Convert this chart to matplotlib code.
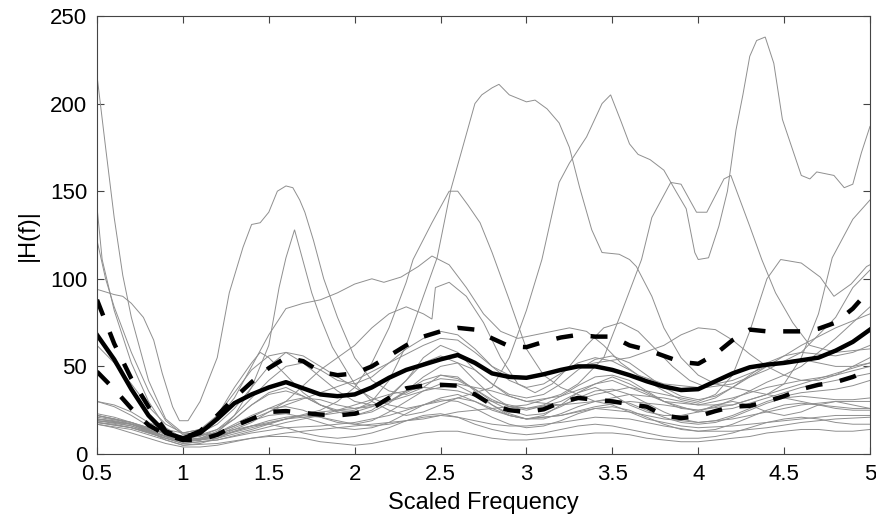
import matplotlib
matplotlib.use("Agg")
import matplotlib.pyplot as plt

plt.rcParams['font.family'] = ['Liberation Sans', 'DejaVu Sans']

# ---------------- summary curves (mean and +/- 1 std) ----------------
freq = [0.5, 0.6, 0.7, 0.8, 0.9, 1.0, 1.1, 1.2, 1.3, 1.4, 1.5, 1.6, 1.7, 1.8, 1.9,
        2.0, 2.1, 2.2, 2.3, 2.4, 2.5, 2.6, 2.7, 2.8, 2.9, 3.0, 3.1, 3.2, 3.3, 3.4,
        3.5, 3.6, 3.7, 3.8, 3.9, 4.0, 4.1, 4.2, 4.3, 4.4, 4.5, 4.6, 4.7, 4.8, 4.9, 5.0]
mean_h = [68, 54, 37, 22, 12, 9, 12, 20, 29, 34, 38, 41, 37.5, 34, 33,
          34, 38, 43.5, 48, 51, 54, 56.5, 52, 46, 44, 43.5, 45.5, 48, 50, 50,
          48, 45, 41.5, 38.5, 36.5, 37, 41.5, 46, 49.5, 51, 52, 53.5, 55, 59, 64, 71]
upper_h = [88, 63, 43, 27, 13, 9, 13, 22, 32, 41, 49, 55, 53, 47, 45,
           46, 50, 56, 62, 67, 70, 72, 71, 66, 61.5, 61, 64, 66.5, 68, 67,
           67, 62, 59.5, 56, 52.5, 51.5, 57, 65, 71, 70, 70, 70, 71.5, 75, 83, 94]
lower_h = [47, 37, 26, 16.5, 11, 8, 8, 11, 16, 20, 24, 24.5, 23.5, 22.5, 22,
           23, 26, 32, 37.5, 39, 39.5, 39, 34, 28, 25, 24, 25.5, 29.5, 32, 31,
           30, 28.5, 27, 22, 20.5, 21.5, 24.5, 27, 27.5, 30, 33, 37, 39.5, 41, 44, 48]

# ---------------- individual traces (gray) ----------------
f_a = [0.5, 0.55, 0.6, 0.65, 0.7, 0.8, 0.9, 1.0, 1.1, 1.2, 1.3, 1.4, 1.5, 1.6, 1.7, 1.8, 1.9, 2.0,
       2.1, 2.2, 2.3, 2.4, 2.5, 2.6, 2.7, 2.8, 2.9, 3.0, 3.2, 3.4, 3.5, 3.6, 3.8, 4.0, 4.2, 4.4, 4.6, 4.8, 5.0]
h_a = [216, 175, 135, 102, 78, 42, 20, 12, 11, 14, 20, 28, 35, 38, 33, 28, 25, 24,
       27, 33, 42, 55, 62, 58, 48, 40, 33, 30, 33, 40, 42, 38, 30, 28, 32, 38, 42, 45, 50]

f_b = [0.5, 0.53, 0.6, 0.7, 0.8, 0.9, 1.0, 1.1, 1.2, 1.3, 1.4, 1.5, 1.6, 1.7, 1.8, 1.9, 2.0, 2.1,
       2.2, 2.3, 2.4, 2.5, 2.6, 2.7, 2.8, 2.9, 3.0, 3.1, 3.2, 3.3, 3.4, 3.5, 3.6, 3.7, 3.8, 3.9,
       4.0, 4.1, 4.2, 4.3, 4.4, 4.5, 4.6, 4.7, 4.8, 4.9, 5.0]
h_b = [141, 111, 82, 52, 30, 15, 9, 10, 14, 22, 32, 42, 50, 52, 48, 42, 40, 44,
       52, 60, 66, 70, 68, 60, 50, 42, 38, 40, 46, 52, 55, 53, 48, 42, 36, 31,
       29, 32, 38, 45, 52, 56, 58, 57, 56, 58, 62]

f_c = [0.5, 0.55, 0.6, 0.7, 0.8, 0.9, 1.0, 1.1, 1.2, 1.3, 1.4, 1.5, 1.6, 1.7, 1.8, 1.9, 2.0, 2.1,
       2.2, 2.3, 2.4, 2.5, 2.6, 2.7, 2.8, 2.9, 3.0, 3.2, 3.4, 3.6, 3.8, 4.0, 4.2, 4.4, 4.6, 4.8, 5.0]
h_c = [122, 100, 84, 58, 36, 19, 11, 12, 17, 26, 38, 50, 58, 56, 50, 44, 38, 32,
       28, 26, 28, 32, 34, 30, 25, 22, 20, 22, 27, 30, 28, 25, 28, 34, 40, 46, 52]

f_p1 = [0.5, 0.6, 0.65, 0.7, 0.77, 0.83, 0.88, 0.94, 0.98, 1.03, 1.1, 1.2, 1.27, 1.35, 1.4, 1.45,
        1.5, 1.55, 1.6, 1.64, 1.68, 1.71, 1.76, 1.82, 1.9, 2.0, 2.1, 2.2, 2.3, 2.4, 2.5, 2.6, 2.7,
        2.8, 2.9, 3.0, 3.1, 3.2, 3.3, 3.4, 3.5, 3.6, 3.7, 3.8, 3.9, 4.0, 4.1, 4.2, 4.3, 4.4, 4.5,
        4.6, 4.7, 4.8, 4.9, 5.0]
h_p1 = [94, 91, 90, 86, 78, 65, 46, 27, 19, 19, 30, 55, 92, 118, 131, 132,
        138, 150, 153, 152, 145, 138, 122, 100, 78, 55, 42, 36, 34, 38, 45, 44, 36,
        28, 22, 20, 22, 28, 35, 38, 34, 28, 24, 22, 22, 24, 28, 30, 28, 24, 22,
        24, 28, 30, 28, 26]

f_p2 = [0.5, 0.6, 0.7, 0.8, 0.9, 1.0, 1.1, 1.2, 1.3, 1.4, 1.5, 1.56, 1.6, 1.65, 1.7, 1.75, 1.8,
        1.87, 1.95, 2.0, 2.1, 2.2, 2.3, 2.4, 2.5, 2.6, 2.7, 2.8, 2.9, 3.0, 3.2, 3.4, 3.6, 3.8,
        4.0, 4.2, 4.4, 4.6, 4.8, 5.0]
h_p2 = [20, 19, 17, 14, 10, 7, 8, 12, 22, 38, 62, 95, 112, 128, 110, 92, 78,
        61, 48, 40, 30, 25, 22, 24, 28, 32, 30, 26, 22, 20, 22, 26, 24, 20,
        18, 20, 24, 28, 30, 30]

f_p3 = [0.5, 0.7, 0.9, 1.0, 1.2, 1.4, 1.6, 1.8, 1.9, 2.0, 2.1, 2.2, 2.3, 2.34, 2.45, 2.55, 2.6,
        2.66, 2.73, 2.8, 2.9, 3.0, 3.1, 3.2, 3.3, 3.4, 3.5, 3.6, 3.7, 3.8, 3.9, 4.0, 4.2, 4.4,
        4.6, 4.8, 5.0]
h_p3 = [18, 15, 10, 8, 10, 15, 20, 25, 30, 38, 52, 72, 98, 111, 132, 150, 150,
        142, 132, 115, 88, 60, 45, 38, 34, 30, 28, 24, 20, 18, 16, 15, 16, 18,
        20, 22, 22]

f_p4 = [0.5, 0.7, 0.9, 1.0, 1.2, 1.4, 1.6, 1.8, 2.0, 2.1, 2.2, 2.3, 2.4, 2.48, 2.56, 2.64, 2.7,
        2.74, 2.8, 2.84, 2.9, 3.0, 3.05, 3.12, 3.19, 3.25, 3.31, 3.38, 3.44, 3.54, 3.6, 3.64,
        3.73, 3.8, 3.9, 4.0, 4.1, 4.2, 4.3, 4.4, 4.5, 4.6, 4.7, 4.8, 4.9, 5.0]
h_p4 = [22, 18, 12, 10, 12, 16, 20, 22, 25, 30, 42, 62, 90, 112, 151, 179, 200,
        205, 209, 211, 205, 201, 202, 197, 189, 175, 152, 128, 115, 114, 111, 107,
        90, 72, 55, 45, 40, 38, 36, 34, 32, 30, 28, 27, 26, 26]

f_p5 = [0.5, 0.7, 0.9, 1.0, 1.2, 1.4, 1.6, 1.8, 2.0, 2.2, 2.4, 2.6, 2.8, 2.9, 3.0, 3.09, 3.19,
        3.25, 3.31, 3.35, 3.44, 3.49, 3.55, 3.6, 3.65, 3.72, 3.8, 3.87, 3.93, 3.98, 4.0, 4.06,
        4.12, 4.17, 4.22, 4.26, 4.3, 4.34, 4.39, 4.44, 4.49, 4.6, 4.65, 4.69, 4.79, 4.85, 4.9,
        4.95, 5.0]
h_p5 = [19, 16, 9, 6, 8, 12, 15, 16, 18, 22, 28, 32, 38, 55, 82, 111, 155,
        166, 175, 181, 200, 205, 190, 177, 171, 168, 162, 150, 140, 115, 111, 112,
        130, 150, 185, 205, 227, 236, 238, 223, 191, 159, 157, 161, 159, 152, 154,
        172, 187]

f_p6 = [0.5, 0.7, 0.9, 1.0, 1.2, 1.4, 1.6, 1.8, 2.0, 2.2, 2.4, 2.6, 2.8, 3.0, 3.2, 3.3, 3.45,
        3.55, 3.67, 3.73, 3.84, 3.9, 3.99, 4.05, 4.15, 4.19, 4.3, 4.37, 4.45, 4.55, 4.65, 4.8, 5.0]
h_p6 = [17, 14, 8, 5, 6, 9, 12, 14, 16, 18, 20, 24, 26, 28, 34, 40, 55,
        80, 111, 135, 155, 154, 138, 138, 157, 159, 130, 111, 92, 75, 62, 58, 60]

f_p8 = [0.5, 0.7, 0.9, 1.0, 1.2, 1.4, 1.6, 1.8, 2.0, 2.2, 2.4, 2.6, 2.8, 3.0, 3.2, 3.4, 3.6,
        3.8, 4.0, 4.2, 4.4, 4.5, 4.6, 4.7, 4.78, 4.9, 5.0]
h_p8 = [20, 17, 10, 7, 9, 14, 20, 24, 26, 30, 36, 40, 36, 30, 28, 30, 34,
        32, 28, 28, 34, 40, 55, 80, 112, 134, 145]

f_p11 = [0.5, 0.7, 0.9, 1.0, 1.2, 1.4, 1.6, 1.8, 2.0, 2.2, 2.4, 2.6, 2.8, 3.0, 3.2, 3.4, 3.6,
         3.8, 4.0, 4.1, 4.2, 4.3, 4.4, 4.48, 4.6, 4.71, 4.79, 4.89, 4.98, 5.0]
h_p11 = [18, 15, 9, 6, 8, 13, 18, 22, 28, 34, 38, 36, 30, 26, 28, 34, 38,
         34, 30, 34, 45, 70, 100, 111, 109, 101, 90, 97, 107, 108]

f_p12 = [0.5, 0.6, 0.7, 0.8, 0.9, 1.0, 1.1, 1.2, 1.3, 1.4, 1.5, 1.6, 1.7, 1.8, 1.9, 2.0, 2.1,
         2.17, 2.27, 2.37, 2.45, 2.55, 2.65, 2.75, 2.85, 2.95, 3.05, 3.15, 3.25, 3.35, 3.45,
         3.55, 3.65, 3.8, 4.0, 4.2, 4.4, 4.6, 4.8, 5.0]
h_p12 = [30, 28, 24, 18, 14, 12, 14, 20, 32, 50, 68, 83, 86, 88, 92, 97, 100,
         98, 101, 107, 113, 108, 95, 80, 70, 66, 68, 70, 72, 70, 62,
         52, 45, 40, 38, 42, 50, 62, 72, 80]

f_p13 = [0.5, 0.7, 0.9, 1.0, 1.2, 1.4, 1.6, 1.8, 2.0, 2.2, 2.4, 2.5, 2.6, 2.7, 2.8, 2.9, 3.0,
         3.2, 3.4, 3.6, 3.8, 3.9, 4.0, 4.1, 4.2, 4.3, 4.4, 4.5, 4.6, 4.7, 4.8, 4.9, 5.0]
h_p13 = [19, 17, 12, 9, 12, 20, 28, 35, 42, 52, 62, 66, 65, 58, 50, 45, 44,
         48, 52, 55, 62, 68, 72, 71, 65, 57, 50, 45, 42, 42, 45, 50, 55]

f_p14 = [0.5, 0.7, 0.9, 1.0, 1.2, 1.4, 1.6, 1.8, 2.0, 2.1, 2.2, 2.3, 2.4, 2.45, 2.47, 2.55, 2.65,
         2.75, 2.85, 2.95, 3.05, 3.15, 3.25, 3.35, 3.45, 3.55, 3.65, 3.75, 3.85, 3.95, 4.05,
         4.2, 4.4, 4.6, 4.8, 4.9, 5.0]
h_p14 = [22, 18, 10, 7, 10, 18, 30, 48, 62, 72, 80, 84, 80, 77, 95, 98, 90,
         75, 55, 40, 35, 40, 50, 62, 72, 75, 70, 60, 50, 42, 38,
         40, 48, 58, 78, 95, 105]

f_l1 = freq
h_l1 = [22, 20, 17, 13, 8, 5, 6, 9, 13, 16, 17, 15, 12, 10, 9,
        10, 12, 15, 19, 22, 23, 21, 17, 14, 12, 11, 12, 14, 16, 17,
        16, 14, 12, 10, 9, 9, 10, 12, 15, 18, 20, 21, 20, 18, 17, 17]

f_l2 = freq
h_l2 = [18, 17, 15, 12, 9, 7, 8, 11, 15, 19, 22, 23, 21, 18, 15,
        14, 15, 18, 23, 28, 31, 30, 26, 21, 17, 15, 16, 19, 23, 26,
        27, 25, 21, 17, 14, 13, 14, 17, 21, 25, 28, 29, 28, 26, 25, 25]

f_l3 = freq
h_l3 = [17, 15, 12, 9, 6, 4, 4, 5, 7, 9, 10, 10, 9, 7, 6,
        5, 6, 8, 10, 12, 13, 13, 11, 9, 8, 8, 9, 10, 11, 12,
        12, 11, 9, 8, 7, 7, 8, 9, 10, 12, 13, 14, 14, 13, 13, 14]

f_l4 = freq
h_l4 = [30, 27, 22, 16, 11, 8, 9, 13, 20, 28, 34, 36, 33, 28, 24,
        22, 24, 29, 36, 42, 45, 43, 37, 30, 25, 22, 23, 27, 32, 36,
        37, 34, 29, 24, 20, 18, 19, 22, 26, 30, 33, 35, 36, 37, 39, 42]

f_l5 = freq
h_l5 = [23, 21, 18, 14, 10, 7, 8, 12, 17, 22, 26, 27, 25, 21, 18,
        17, 19, 24, 30, 36, 40, 39, 34, 28, 23, 20, 20, 23, 27, 30,
        31, 29, 25, 21, 18, 17, 18, 21, 25, 29, 32, 33, 32, 31, 31, 32]

f_l6 = [0.5, 0.7, 0.8, 0.9, 1.0, 1.1, 1.2, 1.3, 1.4, 1.5, 1.6, 1.7, 1.8, 1.9, 2.0, 2.1, 2.2,
        2.3, 2.4, 2.5, 2.6, 2.7, 2.8, 2.9, 3.0, 3.2, 3.4, 3.6, 3.8, 4.0, 4.2, 4.4, 4.6, 4.8, 5.0]
h_l6 = [21, 18, 15, 11, 8, 8, 10, 13, 16, 19, 21, 22, 21, 19, 17, 16, 17,
        19, 21, 22, 21, 19, 17, 16, 16, 18, 21, 20, 16, 13, 13, 15, 18, 20, 21]

f_l7 = freq
h_l7 = [62, 52, 40, 27, 17, 12, 14, 22, 35, 48, 56, 58, 52, 44, 36,
        30, 28, 30, 36, 44, 50, 52, 48, 40, 34, 32, 34, 40, 48, 54,
        56, 52, 45, 38, 33, 31, 33, 38, 44, 50, 53, 54, 52, 50, 50, 52]

f_l8 = freq
h_l8 = [19, 18, 16, 13, 10, 8, 9, 12, 16, 21, 26, 30, 32, 31, 28,
        26, 27, 30, 35, 40, 43, 42, 37, 31, 27, 26, 28, 33, 39, 44,
        45, 42, 36, 30, 26, 25, 27, 31, 36, 41, 45, 50, 58, 66, 75, 84]

f_l9 = [0.5, 0.7, 0.9, 1.0, 1.1, 1.2, 1.3, 1.4, 1.45, 1.5, 1.6, 1.7, 1.8, 1.9, 2.0, 2.1, 2.2,
        2.3, 2.4, 2.5, 2.6, 2.7, 2.8, 2.9, 3.0, 3.2, 3.4, 3.5, 3.6, 3.8, 4.0, 4.2, 4.4, 4.6,
        4.8, 5.0]
h_l9 = [20, 17, 10, 8, 12, 22, 38, 52, 58, 55, 45, 35, 28, 24, 22, 25, 32,
        42, 52, 56, 52, 42, 33, 27, 25, 30, 40, 44, 40, 30, 24, 26, 32, 38,
        42, 46]

traces = [(f_a, h_a), (f_b, h_b), (f_c, h_c), (f_p1, h_p1), (f_p2, h_p2), (f_p3, h_p3),
          (f_p4, h_p4), (f_p5, h_p5), (f_p6, h_p6), (f_p8, h_p8), (f_p11, h_p11),
          (f_p12, h_p12), (f_p13, h_p13), (f_p14, h_p14), (f_l1, h_l1), (f_l2, h_l2),
          (f_l3, h_l3), (f_l4, h_l4), (f_l5, h_l5), (f_l6, h_l6), (f_l7, h_l7),
          (f_l8, h_l8), (f_l9, h_l9)]

xticks = [0.5, 1, 1.5, 2, 2.5, 3, 3.5, 4, 4.5, 5]
xticklabels = ['0.5', '1', '1.5', '2', '2.5', '3', '3.5', '4', '4.5', '5']
yticks = [0, 50, 100, 150, 200, 250]

# ---------------- drawing ----------------
fig = plt.figure(figsize=(8.76, 5.2), dpi=100)
ax = fig.add_axes([97 / 876, 1 - 454 / 520, (870 - 97) / 876, (454 - 16) / 520])

for fx, hy in traces:
    ax.plot(fx, hy, color='#8f8f8f', lw=0.7, solid_joinstyle='miter')

ax.plot(freq, mean_h, color='black', lw=3.2)
ax.plot(freq, upper_h, color='black', lw=3.2, linestyle=(0, (3.8, 4.0)))
ax.plot(freq, lower_h, color='black', lw=3.2, linestyle=(0, (3.8, 4.0)))

ax.set_xlim(0.5, 5)
ax.set_ylim(0, 250)
ax.set_xticks(xticks)
ax.set_xticklabels(xticklabels)
ax.set_yticks(yticks)
ax.tick_params(direction='in', top=True, right=True, length=5, width=0.8,
               color='#444444', labelsize=16, pad=7)
for s in ax.spines.values():
    s.set_color('#444444')
    s.set_linewidth(0.8)

ax.set_xlabel('Scaled Frequency', fontsize=17, labelpad=5)
ax.set_ylabel('|H(f)|', fontsize=17, labelpad=8)

fig.savefig('out.png', dpi=100)
